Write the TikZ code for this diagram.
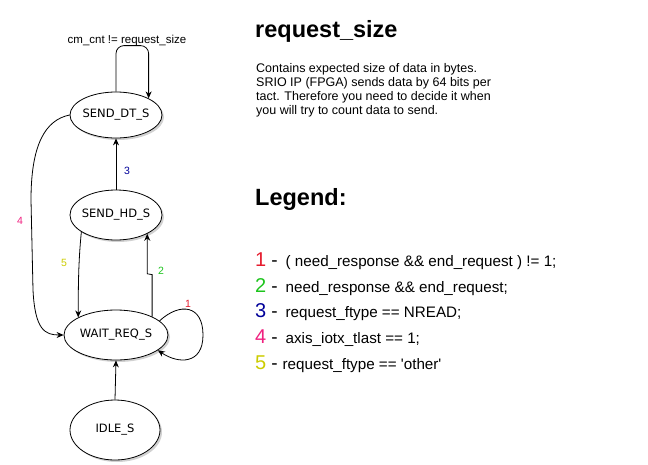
\documentclass[tikz,border=0pt]{standalone}
\usepackage{fontspec}
\setmainfont{Liberation Sans}
\newfontfamily\statefont{DejaVu Sans}
\usetikzlibrary{shapes.geometric,arrows.meta,shadows,calc}
\definecolor{cone}{HTML}{E51C2E}
\definecolor{ctwo}{HTML}{1DC41D}
\definecolor{cthree}{HTML}{000099}
\definecolor{cfour}{HTML}{F0207F}
\definecolor{cfive}{HTML}{CCCC00}
\tikzset{
  statebox/.style={draw, ellipse, fill=white, inner sep=0pt, line width=0.8pt,
    font=\statefont\fontsize{11.5}{13}\selectfont,
    drop shadow={shadow xshift=2pt, shadow yshift=-2pt, opacity=0.18, fill=black}},
  arr/.style={-{Stealth[length=7pt,width=6pt]}, line width=0.8pt},
  elabel/.style={font=\fontsize{10.5}{12}\selectfont, inner sep=0pt},
  para/.style={anchor=base west, inner sep=0pt, font=\fontsize{12.5}{14}\selectfont},
  head/.style={anchor=base west, inner sep=0pt, font=\bfseries\fontsize{23.5}{28}\selectfont},
  legline/.style={anchor=base west, inner sep=0pt, font=\fontsize{15.2}{17}\selectfont},
}
\newcommand{\legnum}[2]{{\color{#1}\fontsize{20}{20}\selectfont #2}\hspace{5pt}{\fontsize{19}{20}\selectfont -}\hspace{8pt}}
\begin{document}
\begin{tikzpicture}[x=1pt,y=-1pt]
\useasboundingbox (0,0) rectangle (648,464);
% states
\node[statebox, minimum width=92pt, minimum height=46pt] (dt) at (116,115) {\makebox[0pt]{SEND\_DT\_S}};
\node[statebox, minimum width=92pt, minimum height=50pt] (hd) at (116,215) {\makebox[0pt]{SEND\_HD\_S}};
\node[statebox, minimum width=104pt, minimum height=50pt] (wait) at (116,335) {\makebox[0pt]{WAIT\_REQ\_S}};
\node[statebox, minimum width=90pt, minimum height=60pt] (idle) at (115,430) {\makebox[0pt]{IDLE\_S}};
% self loop on SEND_DT_S
\draw[arr, rounded corners=8pt] (dt.north) -- ++(0,-46) -| (dt.27);
\node[elabel, font=\fontsize{11.5}{13}\selectfont] (looplab) at (127,41) {cm\_cnt != request\_size};
% 3
\draw[arr] (hd.north) -- (dt.south);
\node[elabel, text=cthree] (l3) at (127,171) {3};
% 5
\draw[arr] (hd.206) .. controls +(-3,30) and +(0,-30) .. (wait.155);
\node[elabel, text=cfive] (l5) at (64,263) {5};
% 2
\draw[arr] (wait.27) -- ++(0,-42) -- ($(hd.329)+(0,40)$) -- (hd.329);
\node[elabel, text=ctwo] (l2) at (161,271) {2};
% 1 self loop
\draw[arr] (wait.18) .. controls (180,302) and (203,305) .. (203,335)
  .. controls (203,365) and (178,364) .. (wait.-20);
\node[elabel, text=cone] (l1) at (188,304) {1};
% 4
\draw[arr] (dt.west) .. controls (45,120) and (31,145) .. (31,200)
  -- (33,290) .. controls (35,330) and (45,335) .. (wait.west);
\node[elabel, text=cfour] (l4) at (20,221) {4};
% idle
\draw[arr] (idle.north) -- (wait.south);
% right text
\node[head] (title) at (255,37) {request\_size};
\node[para] (p1) at (256,72) {Contains expected size of data in bytes.};
\node[para] (p2) at (256,86) {SRIO IP (FPGA) sends data by 64 bits per};
\node[para] (p3) at (256,100) {tact. Therefore you need to decide it when};
\node[para] (p4) at (256,114) {you will try to count data to send.};
\node[head] (legend) at (255,205) {Legend:};
\node[legline] (g1) at (255,266) {\legnum{cone}{1}(\ need\_response \&\& end\_request ) != 1;};
\node[legline] (g2) at (255,292) {\legnum{ctwo}{2}need\_response \&\& end\_request;};
\node[legline] (g3) at (255,317) {\legnum{cthree}{3}request\_ftype == NREAD;};
\node[legline] (g4) at (255,343) {\legnum{cfour}{4}axis\_iotx\_tlast == 1;};
\node[legline] (g5) at (255,369) {\legnum{cfive}{5}\hspace{-3pt}request\_ftype == \textquotesingle other\textquotesingle};
\end{tikzpicture}
\end{document}
